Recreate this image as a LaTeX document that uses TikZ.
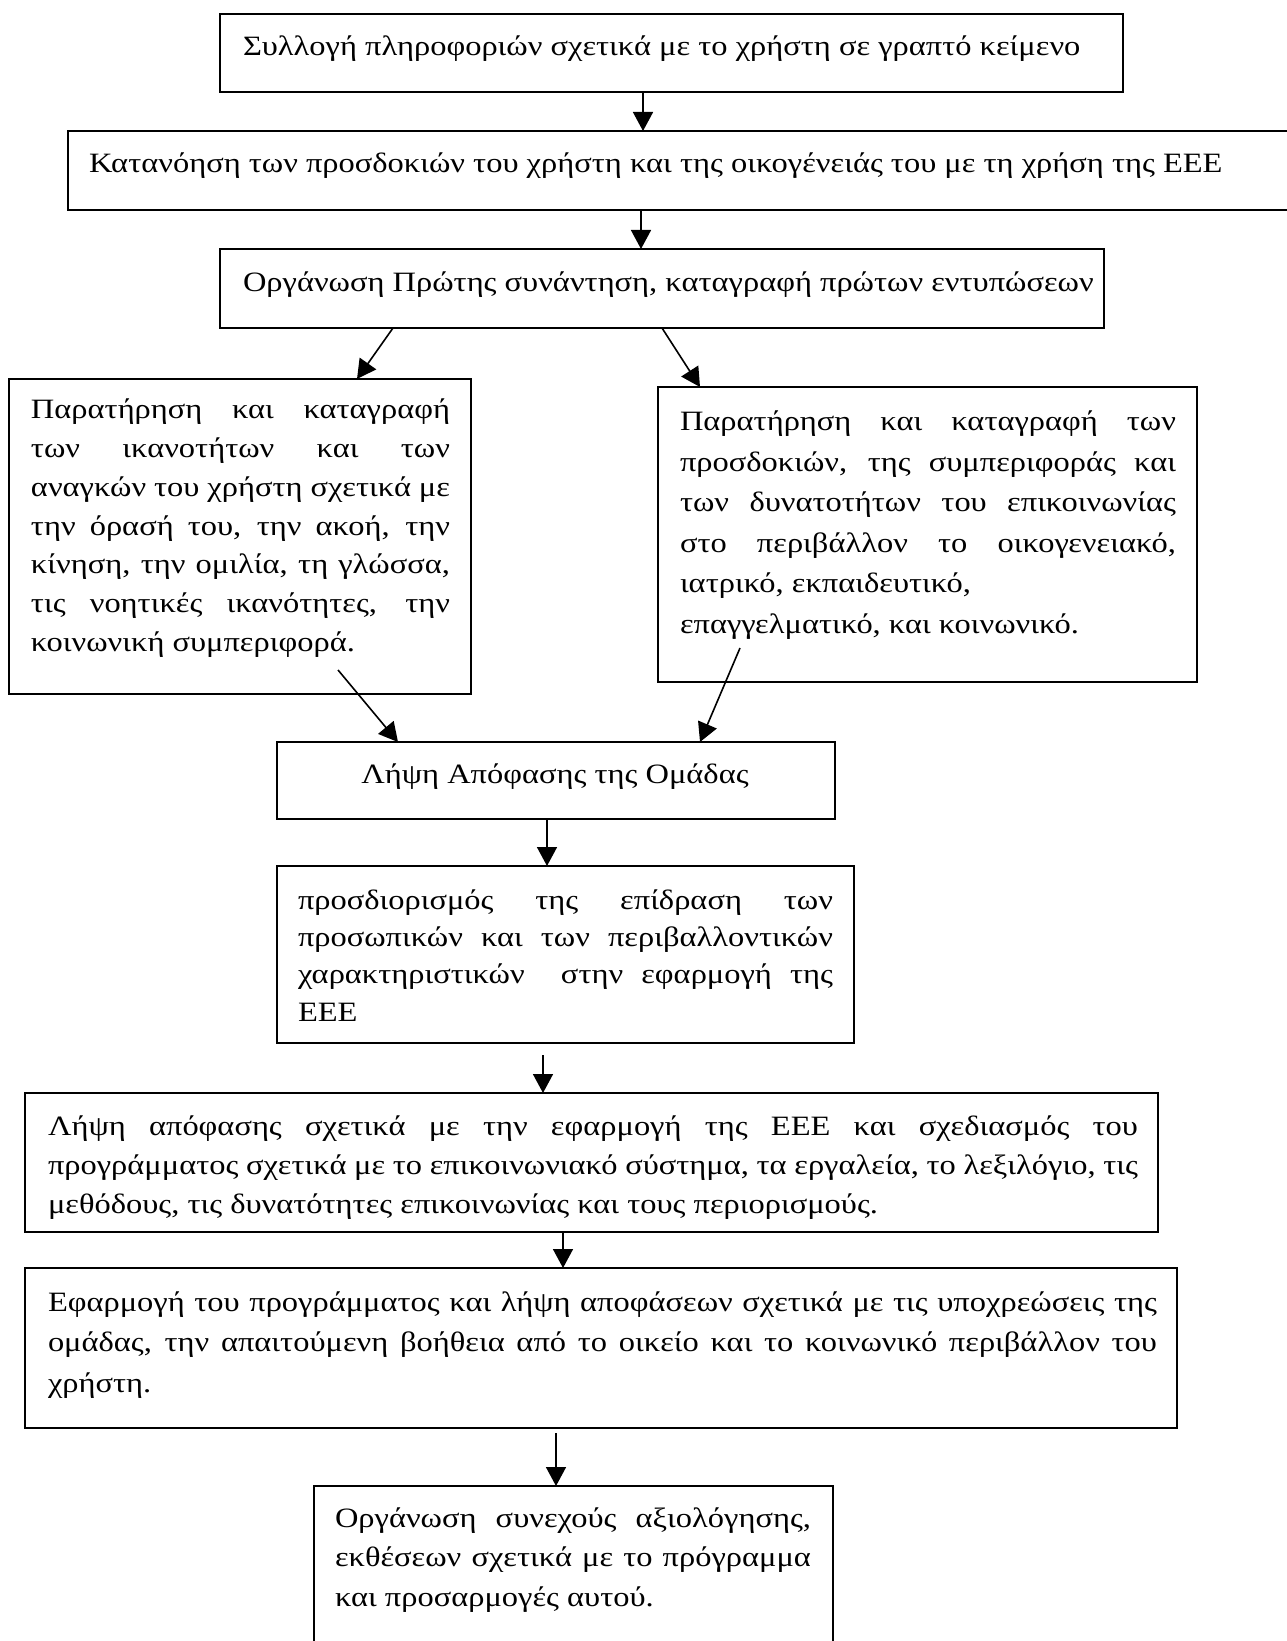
\documentclass[tikz,border=0pt]{standalone}
\usepackage{fontspec}
\setmainfont{Liberation Serif}[FakeStretch=1.16]
\usetikzlibrary{arrows.meta}
\newcommand\jline[1]{\makebox[\linewidth][s]{#1}\par}
\newcommand\txtbox[3]{\parbox[t]{#1}{\fontsize{14}{#2}\selectfont #3}}
\begin{document}
\begin{tikzpicture}[x=0.5pt,y=-0.5pt,
  box/.style={draw,line width=1pt,inner sep=0pt,outer sep=0pt,anchor=north west},
  txt/.style={anchor=base west,inner sep=0pt,outer sep=0pt,font=\fontsize{14}{19.3}\selectfont},
  arr/.style={line width=0.8pt,-{Triangle[length=9.5pt,width=10pt]}}]
\useasboundingbox (0,0) rectangle (1286,1641);
% boxes
\node[box,minimum width=451.5pt,minimum height=39pt] (b1) at (220,14) {};
\node[box,minimum width=616pt,minimum height=39.5pt] (b2) at (68,131) {};
\node[box,minimum width=442pt,minimum height=39.5pt] (b3) at (220,249) {};
\node[box,minimum width=231pt,minimum height=157.5pt] (b4) at (9,379) {};
\node[box,minimum width=269.5pt,minimum height=147.5pt] (b5) at (658,387) {};
\node[box,minimum width=279pt,minimum height=38.5pt] (b6) at (277,742) {};
\node[box,minimum width=288.5pt,minimum height=88.5pt] (b7) at (277,866) {};
\node[box,minimum width=566.5pt,minimum height=69.5pt] (b8) at (25,1093) {};
\node[box,minimum width=576pt,minimum height=80pt] (b9) at (25,1268) {};
\node[box,minimum width=259.5pt,minimum height=87pt] (b10) at (314,1486) {};
% texts
\node[txt] (t1) at (243,56) {Συλλογή πληροφοριών σχετικά με το χρήστη σε γραπτό κείμενο};
\node[txt] (t2) at (89,173) {Κατανόηση των προσδοκιών του χρήστη και της οικογένειάς του με τη χρήση της ΕΕΕ};
\node[txt] (t3) at (243,292) {Οργάνωση Πρώτης συνάντηση, καταγραφή πρώτων εντυπώσεων};
\node[txt] (t4) at (31,419) {\txtbox{209.5pt}{19.35pt}{%
\jline{Παρατήρηση και καταγραφή}
\jline{των ικανοτήτων και των}
\jline{αναγκών του χρήστη σχετικά με}
\jline{την όρασή του, την ακοή, την}
\jline{κίνηση, την ομιλία, τη γλώσσα,}
\jline{τις νοητικές ικανότητες, την}
κοινωνική συμπεριφορά.}};
\node[txt] (t5) at (680,431) {\txtbox{248pt}{20.2pt}{%
\jline{Παρατήρηση και καταγραφή των}
\jline{προσδοκιών, της συμπεριφοράς και}
\jline{των δυνατοτήτων του επικοινωνίας}
\jline{στο περιβάλλον το οικογενειακό,}
ιατρικό, εκπαιδευτικό,\par
επαγγελματικό, και κοινωνικό.}};
\node[txt,anchor=base] (t6) at (555,783) {Λήψη Απόφασης της Ομάδας};
\node[txt] (t7) at (298,909) {\txtbox{267.5pt}{18.7pt}{%
\jline{προσδιορισμός της επίδραση των}
\jline{προσωπικών και των περιβαλλοντικών}
\jline{χαρακτηριστικών \ στην εφαρμογή της}
ΕΕΕ}};
\node[txt] (t8) at (48,1135) {\txtbox{545pt}{19.5pt}{%
\jline{Λήψη απόφασης σχετικά με την εφαρμογή της ΕΕΕ και σχεδιασμός του}
\jline{προγράμματος σχετικά με το επικοινωνιακό σύστημα, τα εργαλεία, το λεξιλόγιο, τις}
μεθόδους, τις δυνατότητες επικοινωνίας και τους περιορισμούς.}};
\node[txt] (t9) at (48,1311) {\txtbox{554.5pt}{20.4pt}{%
\jline{Εφαρμογή του προγράμματος και λήψη αποφάσεων σχετικά με τις υποχρεώσεις της}
\jline{ομάδας, την απαιτούμενη βοήθεια από το οικείο και το κοινωνικό περιβάλλον του}
χρήστη.}};
\node[txt] (t10) at (335,1527) {\txtbox{238pt}{19.9pt}{%
\jline{Οργάνωση συνεχούς αξιολόγησης,}
\jline{εκθέσεων σχετικά με το πρόγραμμα}
και προσαρμογές αυτού.}};
% connector coordinates
\coordinate (c1) at (643,0);
\coordinate (c2) at (641,0);
\coordinate (s3) at (393,0);
\coordinate (e3) at (357,0);
\coordinate (s4) at (662,0);
\coordinate (e4) at (700,0);
\coordinate (a5) at (338,670);
\coordinate (e5) at (398,0);
\coordinate (a6) at (740,648);
\coordinate (e6) at (700,0);
\coordinate (c7) at (547,0);
\coordinate (a8) at (543,1055);
\coordinate (c9) at (563,0);
\coordinate (a10) at (556,1433);
% connectors
\draw[arr] (b1.south -| c1) -- (b2.north -| c1);
\draw[arr] (b2.south -| c2) -- (b3.north -| c2);
\draw[arr] (b3.south -| s3) -- (b4.north -| e3);
\draw[arr] (b3.south -| s4) -- (b5.north -| e4);
\draw[arr] (a5) -- (b6.north -| e5);
\draw[arr] (a6) -- (b6.north -| e6);
\draw[arr] (b6.south -| c7) -- (b7.north -| c7);
\draw[arr] (a8) -- (b8.north -| a8);
\draw[arr] (b8.south -| c9) -- (b9.north -| c9);
\draw[arr] (a10) -- (b10.north -| a10);
\end{tikzpicture}
\end{document}
